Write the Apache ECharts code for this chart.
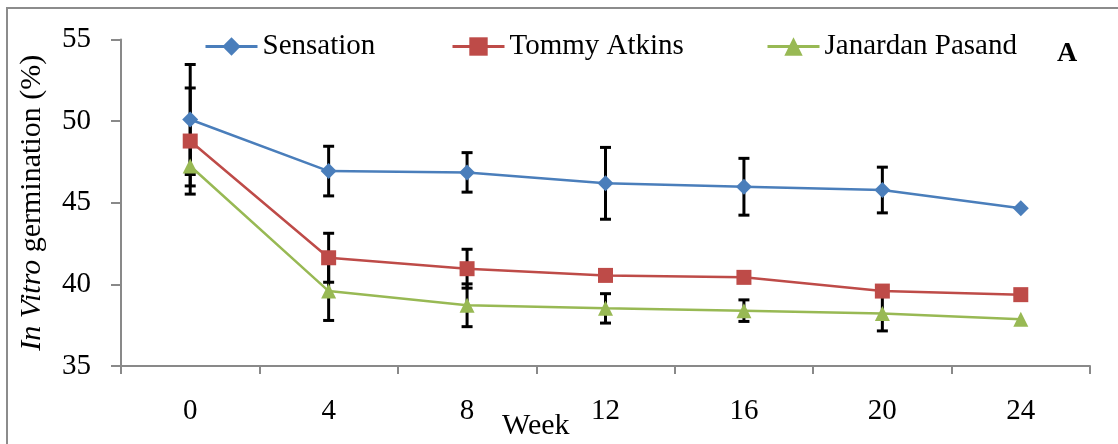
<!DOCTYPE html>
<html><head><meta charset="utf-8">
<script src="https://cdn.jsdelivr.net/npm/echarts@6/dist/echarts.min.js"></script>
<style>html,body{margin:0;padding:0;background:#fff}#c{width:1118px;height:444px}</style>
</head><body><div id="c"></div>
<script>
const weeks = ['0','4','8','12','16','20','24'];
const sensation = [50.1, 46.94, 46.86, 46.19, 45.98, 45.78, 44.66];
const tommy = [48.78, 41.63, 40.96, 40.55, 40.43, 39.59, 39.37];
const janardan = [47.25, 39.59, 38.72, 38.53, 38.39, 38.22, 37.86];
const sensationErr = [3.37, 1.52, 1.21, 2.2, 1.74, 1.4, null];
const tommyErr = [3.25, 1.5, 1.19, null, null, null, null];
const janardanErr = [1.22, 1.8, 1.31, 0.9, 0.66, 1.07, null];
const yTicks = [35, 40, 45, 50, 55];

const FONT = '"Liberation Serif", "Times New Roman", serif';
const chart = echarts.init(document.getElementById('c'));

function errData(vals, errs) {
  const out = [];
  vals.forEach((v, i) => { if (errs[i] != null) out.push([i, v, errs[i]]); });
  return out;
}
function errSeries(vals, errs) {
  return {
    type: 'custom', z: 1, silent: true,
    data: errData(vals, errs),
    encode: { x: 0, y: 1 },
    renderItem: function (params, api) {
      const i = api.value(0), v = api.value(1), e = api.value(2);
      const t = api.coord([i, v + e]), b = api.coord([i, v - e]);
      const hw = 5.5;
      const st = { stroke: '#000', lineWidth: 3 };
      return { type: 'group', children: [
        { type: 'line', shape: { x1: t[0], y1: t[1], x2: b[0], y2: b[1] }, style: st },
        { type: 'line', shape: { x1: t[0]-hw, y1: t[1], x2: t[0]+hw, y2: t[1] }, style: st },
        { type: 'line', shape: { x1: b[0]-hw, y1: b[1], x2: b[0]+hw, y2: b[1] }, style: st }
      ]};
    }
  };
}
function legend(name, left) {
  return {
    data: [name], left: left, top: 27, itemWidth: 52, itemHeight: 23, itemGap: 0,
    lineStyle: { width: 3 },
    textStyle: { fontFamily: FONT, fontSize: 29, color: '#000' }, selectedMode: false
  };
}
const axisColor = '#898989';
chart.setOption({
  animation: false,
  grid: { left: 121, right: 28, top: 39.5, bottom: 78 },
  legend: [legend('Sensation', 199), legend('Tommy Atkins', 446), legend('Janardan Pasand', 761)],
  xAxis: {
    type: 'category', data: weeks, boundaryGap: true,
    axisLine: { lineStyle: { color: axisColor, width: 2 } },
    axisTick: { show: true, length: 8, lineStyle: { color: axisColor, width: 2 } },
    axisLabel: { fontFamily: FONT, fontSize: 29, color: '#000', margin: 31 }
  },
  yAxis: {
    type: 'value', min: yTicks[0], max: yTicks[yTicks.length-1], interval: 5,
    name: '{i|In Vitro} germination (%)', nameLocation: 'middle', nameGap: 74, nameRotate: 90,
    nameTextStyle: { fontFamily: FONT, fontSize: 30, color: '#000',
      rich: { i: { fontFamily: FONT, fontSize: 30, fontStyle: 'italic', color: '#000' } } },
    splitLine: { show: false },
    axisLine: { show: true, lineStyle: { color: axisColor, width: 2 } },
    axisTick: { show: true, length: 10, lineStyle: { color: axisColor, width: 2 } },
    axisLabel: { fontFamily: FONT, fontSize: 29, color: '#000', margin: 30 }
  },
  graphic: [
    { type: 'rect', shape: { x: 7, y: 8, width: 1300, height: 600 }, style: { fill: 'none', stroke: '#8c8c8c', lineWidth: 2 }, z: -10 },
    { type: 'text', left: 502, top: 411, style: { text: 'Week', font: '30px ' + FONT, fill: '#000' } },
    { type: 'text', left: 1057, top: 40, style: { text: 'A', font: 'bold 28px ' + FONT, fill: '#000' } }
  ],
  series: [
    errSeries(sensation, sensationErr),
    errSeries(tommy, tommyErr),
    errSeries(janardan, janardanErr),
    { name: 'Sensation', type: 'line', data: sensation, z: 3, symbol: 'diamond', symbolSize: 16,
      itemStyle: { color: '#4A7EBB' }, lineStyle: { color: '#4A7EBB', width: 2.5 } },
    { name: 'Tommy Atkins', type: 'line', data: tommy, z: 3, symbol: 'rect', symbolSize: 15,
      itemStyle: { color: '#BE4B48' }, lineStyle: { color: '#BE4B48', width: 2.5 } },
    { name: 'Janardan Pasand', type: 'line', data: janardan, z: 3, symbol: 'triangle', symbolSize: 15,
      itemStyle: { color: '#98B954' }, lineStyle: { color: '#98B954', width: 2.5 } }
  ]
});
</script></body></html>
